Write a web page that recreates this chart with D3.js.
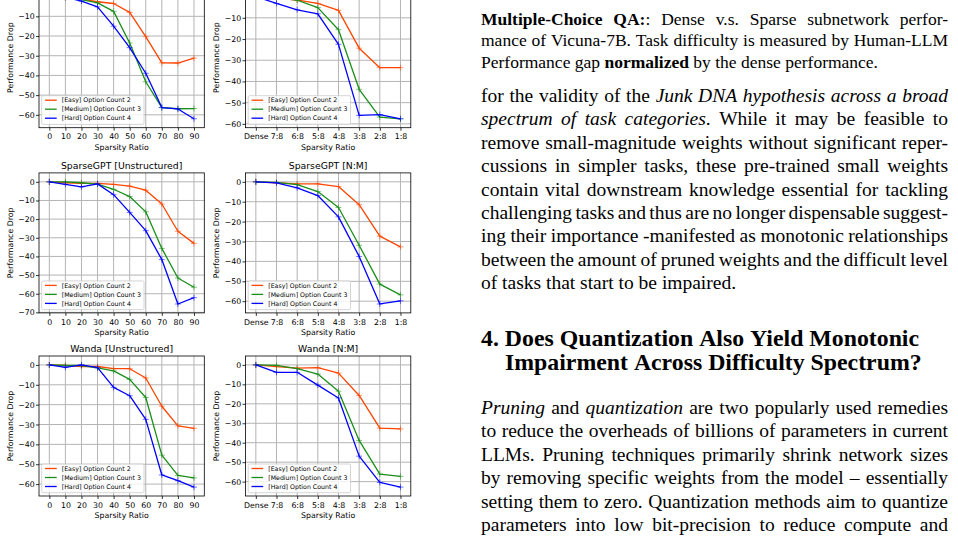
<!DOCTYPE html>
<meta charset="utf-8">
<style>
    body { margin: 0; background: #ffffff; }
    svg { display: block; }
    .plot text { font-family: "DejaVu Sans", sans-serif; fill: #000000; }
    .grid line { stroke: #b4b4b4; stroke-width: 1px; }
    .page text { font-family: "Liberation Serif", "Times New Roman", serif; fill: #000000; }
</style>
<svg width="958" height="538"></svg>
<script src="https://d3js.org/d3.v7.min.js"></script>
<script>

    // ---- data ----
    var ratioTicks = [0, 10, 20, 30, 40, 50, 60, 70, 80, 90];
    var nmTicks = ["Dense", "7:8", "6:8", "5:8", "4:8", "3:8", "2:8", "1:8"];
    var seriesNames = ["[Easy] Option Count 2", "[Medium] Option Count 3", "[Hard] Option Count 4"];
    var seriesColors = ["#ff4500", "#1a8f1a", "#0000ff"];

    // magnitude (top row, titles cut off)
    var magUEasy   = [0, -0.5, -1.2, -2.6, -3.5, -8.0, -20.3, -33.6, -33.7, -31.2];
    var magUMedium = [0, -0.5, -1.5, -3.2, -7.5, -23.5, -43.2, -56.3, -56.9, -56.8];
    var magUHard   = [0, -0.3, -2.3, -5.2, -15.0, -25.9, -38.9, -56.3, -57.0, -62.0];
    var magNEasy   = [0, -0.8, -1.6, -3.2, -6.5, -24.3, -33.5, -33.5];
    var magNMedium = [0, -0.5, -1.7, -5.2, -15.6, -43.7, -56.8, -57.6];
    var magNHard   = [0, -3.2, -6.2, -8.1, -22.5, -56.0, -55.6, -57.6];
    // SparseGPT
    var sgUEasy    = [0, -0.5, -0.8, -0.8, -1.4, -2.3, -4.5, -11.9, -26.5, -33.0];
    var sgUMedium  = [0, 0, -0.5, -1.3, -4.0, -7.9, -16.1, -35.7, -51.6, -56.5];
    var sgUHard    = [0, -1.4, -2.7, -1.1, -6.9, -16.4, -26.2, -41.7, -65.5, -62.1];
    var sgNEasy    = [0, -0.5, -1.0, -1.0, -2.4, -11.5, -27.3, -32.7];
    var sgNMedium  = [0, -0.3, -1.4, -4.9, -12.9, -31.9, -51.4, -56.8];
    var sgNHard    = [0, -0.5, -3.0, -6.9, -17.6, -37.5, -61.4, -59.8];
    // Wanda
    var wdUEasy    = [0, -0.3, -0.8, -0.8, -1.9, -1.9, -6.6, -20.8, -30.7, -31.9];
    var wdUMedium  = [0, -0.3, -0.3, -1.5, -3.0, -7.3, -16.4, -45.4, -55.6, -56.9];
    var wdUHard    = [0, -1.2, 0, -1.4, -11.3, -15.5, -27.4, -55.4, -58.3, -61.5];
    var wdNEasy    = [0, -0.9, -1.6, -1.4, -4.2, -15.7, -32.5, -32.9];
    var wdNMedium  = [0, -0.2, -1.9, -4.7, -13.5, -38.8, -56.1, -57.3];
    var wdNHard    = [0, -3.8, -3.8, -10.4, -17.0, -46.9, -60.4, -62.8];

    // right column text (** bold **, * italic *)
    var captionLines = [
        "**Multiple-Choice QA:**: Dense v.s. Sparse subnetwork perfor-",
        "mance of Vicuna-7B. Task difficulty is measured by Human-LLM",
        "Performance gap **normalized** by the dense performance."
    ];
    var bodyLines = [
        "for the validity of the *Junk DNA hypothesis across a broad*",
        "*spectrum of task categories*. While it may be feasible to",
        "remove small-magnitude weights without significant reper-",
        "cussions in simpler tasks, these pre-trained small weights",
        "contain vital downstream knowledge essential for tackling",
        "challenging tasks and thus are no longer dispensable suggest-",
        "ing their importance -manifested as monotonic relationships",
        "between the amount of pruned weights and the difficult level",
        "of tasks that start to be impaired."
    ];
    var headingLines = [
        "4. Does Quantization Also Yield Monotonic",
        "Impairment Across Difficulty Spectrum?"
    ];
    var body2Lines = [
        "*Pruning* and *quantization* are two popularly used remedies",
        "to reduce the overheads of billions of parameters in current",
        "LLMs. Pruning techniques primarily shrink network sizes",
        "by removing specific weights from the model \u2013 essentially",
        "setting them to zero. Quantization methods aim to quantize",
        "parameters into low bit-precision to reduce compute and"
    ];

    var panels = [
        {title: null, cats: ratioTicks, series: [magUEasy, magUMedium, magUHard], left: 39, top: -12.3},
        {title: null, cats: nmTicks, series: [magNEasy, magNMedium, magNHard], left: 245.5, top: -12.3},
        {title: "SparseGPT [Unstructured]", cats: ratioTicks, series: [sgUEasy, sgUMedium, sgUHard], left: 39, top: 172.9},
        {title: "SparseGPT [N:M]", cats: nmTicks, series: [sgNEasy, sgNMedium, sgNHard], left: 245.5, top: 172.9},
        {title: "Wanda [Unstructured]", cats: ratioTicks, series: [wdUEasy, wdUMedium, wdUHard], left: 39, top: 356},
        {title: "Wanda [N:M]", cats: nmTicks, series: [wdNEasy, wdNMedium, wdNHard], left: 245.5, top: 356}
    ];

    var svg = d3.select("svg");
    var plotW = 165.3, plotH = 140;
    var tickFont = 7.8, titleFont = 9.3, legendFont = 6.25;

    panels.forEach(function (p) {
        var g = svg.append("g")
            .attr("class", "plot")
            .attr("transform", "translate(" + p.left + "," + p.top + ")");

        var pad = plotW / 16;
        var x;
        if (typeof p.cats[0] === "number") {
            x = d3.scaleLinear().domain([0, 90]).range([pad, plotW - pad]);
        } else {
            x = d3.scalePoint().domain(p.cats).range([0, plotW]).padding(0.5);
        }

        var lo = d3.min(p.series, function (s) { return d3.min(s); });
        var span = -lo;
        var y = d3.scaleLinear()
            .domain([lo - 0.073 * span, 0.073 * span])
            .range([plotH, 0]);

        var yTicks = d3.range(Math.ceil(y.domain()[0] / 10) * 10, 1, 10);

        // grid
        var grid = g.append("g").attr("class", "grid");
        grid.selectAll("line.v")
            .data(p.cats)
            .enter().append("line")
            .attr("x1", function (d) { return x(d); })
            .attr("x2", function (d) { return x(d); })
            .attr("y1", 0)
            .attr("y2", plotH);
        grid.selectAll("line.h")
            .data(yTicks)
            .enter().append("line")
            .attr("x1", 0)
            .attr("x2", plotW)
            .attr("y1", function (d) { return y(d); })
            .attr("y2", function (d) { return y(d); });

        // axes
        var yAxis = g.append("g")
            .call(d3.axisLeft(y).tickValues(yTicks).tickSize(3).tickSizeOuter(0)
                .tickPadding(1.3).tickFormat(d3.format("d")));
        var xAxis = g.append("g")
            .attr("transform", "translate(0," + plotH + ")")
            .call(d3.axisBottom(x).tickValues(p.cats).tickSize(3).tickSizeOuter(0).tickPadding(3.2));
        [yAxis, xAxis].forEach(function (a) {
            a.select(".domain").remove();
            a.attr("font-family", null).attr("font-size", null);
            a.selectAll("line").attr("stroke", "#000").attr("stroke-width", 0.8);
            a.selectAll("text").style("font-size", tickFont + "px");
        });

        // lines and markers
        p.series.forEach(function (s, si) {
            var line = d3.line()
                .x(function (d, i) { return x(p.cats[i]); })
                .y(function (d) { return y(d); });
            g.append("path")
                .datum(s)
                .attr("fill", "none")
                .attr("stroke", seriesColors[si])
                .attr("stroke-width", 1.3)
                .attr("stroke-linejoin", "round")
                .attr("d", line);
            g.selectAll(null)
                .data(s)
                .enter().append("path")
                .attr("transform", function (d, i) {
                    return "translate(" + x(p.cats[i]) + "," + y(d) + ")";
                })
                .attr("d", "M-3,0H3M0,-3V3")
                .attr("stroke", seriesColors[si])
                .attr("stroke-opacity", 0.55)
                .attr("stroke-width", 1);
        });

        // frame
        g.append("rect")
            .attr("width", plotW)
            .attr("height", plotH)
            .attr("fill", "none")
            .attr("stroke", "#000")
            .attr("stroke-width", 0.8);

        // legend
        var lg = g.append("g")
            .attr("class", "legend")
            .attr("transform", "translate(2.7," + (plotH - 3.3 - 28.7) + ")");
        lg.append("rect")
            .attr("width", 102.3)
            .attr("height", 28.7)
            .attr("rx", 1.5)
            .attr("fill", "#ffffff")
            .attr("fill-opacity", 0.8)
            .attr("stroke", "#cccccc")
            .attr("stroke-width", 0.8);
        seriesNames.forEach(function (name, i) {
            var cy = 4.5 + i * 9;
            lg.append("line")
                .attr("x1", 3.3).attr("x2", 15)
                .attr("y1", cy).attr("y2", cy)
                .attr("stroke", seriesColors[i])
                .attr("stroke-width", 1.3);
            lg.append("text")
                .attr("x", 20)
                .attr("y", cy + 2.2)
                .style("font-size", legendFont + "px")
                .text(name);
        });

        // labels
        g.append("text")
            .attr("x", plotW / 2)
            .attr("y", plotH + 19.5 + 2.8)
            .attr("text-anchor", "middle")
            .style("font-size", tickFont + "px")
            .text("Sparsity Ratio");
        g.append("text")
            .attr("transform", "translate(" + (-26.3) + "," + (plotH / 2) + ") rotate(-90)")
            .attr("text-anchor", "middle")
            .style("font-size", tickFont + "px")
            .text("Performance Drop");
        if (p.title) {
            g.append("text")
                .attr("x", plotW / 2)
                .attr("y", -4)
                .attr("text-anchor", "middle")
                .style("font-size", titleFont + "px")
                .text(p.title);
        }
    });

    // ---- right column text ----
    var page = svg.append("g").attr("class", "page");
    var measureCtx = document.createElement("canvas").getContext("2d");

    function fontFor(style, size) {
        return (style === "i" ? "italic " : "") + (style === "b" ? "bold " : "") +
            size + "px 'Liberation Serif'";
    }

    function parseWords(src, baseStyle) {
        var pieces = src.split(/(\*\*.+?\*\*|\*.+?\*)/).filter(function (s) { return s.length; })
            .map(function (s) {
                if (s.slice(0, 2) === "**") return {text: s.slice(2, -2), style: "b"};
                if (s[0] === "*") return {text: s.slice(1, -1), style: "i"};
                return {text: s, style: baseStyle};
            });
        var words = [[]];
        pieces.forEach(function (pc) {
            var parts = pc.text.split(" ");
            parts.forEach(function (part, k) {
                if (k > 0) words.push([]);
                if (part.length) words[words.length - 1].push({text: part, style: pc.style});
            });
        });
        return words.filter(function (w) { return w.length; });
    }

    function drawLine(src, x0, x1, baseline, size, justify, baseStyle) {
        var words = parseWords(src, baseStyle || "");
        var widths = words.map(function (w) {
            return d3.sum(w, function (pc) {
                measureCtx.font = fontFor(pc.style, size);
                pc.w = measureCtx.measureText(pc.text).width;
                return pc.w;
            });
        });
        measureCtx.font = fontFor(baseStyle || "", size);
        var gap = measureCtx.measureText(" ").width;
        if (justify && words.length > 1) {
            gap = (x1 - x0 - d3.sum(widths)) / (words.length - 1);
        }
        var cx = x0;
        words.forEach(function (w) {
            w.forEach(function (pc) {
                page.append("text")
                    .attr("x", cx)
                    .attr("y", baseline)
                    .style("font-size", size + "px")
                    .style("font-weight", pc.style === "b" ? "bold" : "normal")
                    .style("font-style", pc.style === "i" ? "italic" : "normal")
                    .text(pc.text);
                cx += pc.w;
            });
            cx += gap;
        });
    }

    var colL = 481, colR = 948;
    captionLines.forEach(function (l, i) {
        drawLine(l, colL, colR, 24.5 + i * 21.5, 17.5, i < captionLines.length - 1);
    });
    bodyLines.forEach(function (l, i) {
        drawLine(l, colL, colR, 102 + i * 23.4, 19.5, i < bodyLines.length - 1);
    });
    headingLines.forEach(function (l, i) {
        drawLine(l, i === 0 ? colL : 505, colR, 346 + i * 24, 23.8, false, "b");
    });
    body2Lines.forEach(function (l, i) {
        drawLine(l, colL, colR, 413.5 + i * 23.5, 19.5, true);
    });

</script>
